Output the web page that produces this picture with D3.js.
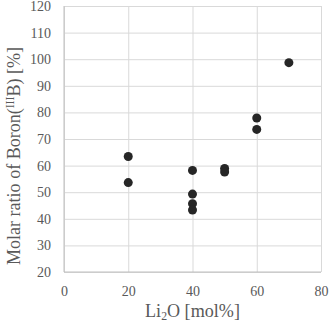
<!DOCTYPE html>
<html>
<head>
<meta charset="utf-8">
<script src="https://cdn.jsdelivr.net/npm/d3@7"></script>
<style>
  body { margin: 0; background: #fff; }
  svg text { font-family: "Liberation Serif", "DejaVu Serif", "Times New Roman", serif !important; fill: #595959; }
</style>
</head>
<body>
<div id="container"></div>
<script>
/* CONSTANTS AND GLOBALS */
const width = 330,
  height = 324;
const margin = { top: 6, right: 9, bottom: 52, left: 64 };

/* DATA */
const li2o = [20, 20, 40, 40, 40, 40, 50, 50, 60, 60, 70];
const boronIII = [63.4, 53.6, 58.2, 49.3, 45.7, 43.3, 58.9, 57.6, 77.9, 73.6, 98.7];
const xTicks = [0, 20, 40, 60, 80];
const yTicks = [20, 30, 40, 50, 60, 70, 80, 90, 100, 110, 120];

const data = li2o.map((x, i) => ({ x: x, y: boronIII[i] }));

// SCALES
const xScale = d3.scaleLinear()
  .domain([0, 80])
  .range([margin.left, width - margin.right]);

const yScale = d3.scaleLinear()
  .domain([20, 120])
  .range([height - margin.bottom, margin.top]);

// CREATE SVG ELEMENT
const svg = d3.select("#container")
  .append("svg")
  .attr("width", width)
  .attr("height", height);

// GRIDLINES
svg.append("g")
  .attr("class", "x-grid")
  .attr("transform", `translate(0, ${height - margin.bottom})`)
  .call(d3.axisBottom(xScale).tickValues(xTicks).tickSize(-(height - margin.top - margin.bottom)).tickFormat(""))
  .call(g => g.select(".domain").remove())
  .call(g => g.selectAll("line").attr("stroke", "#d9d9d9"));

svg.append("g")
  .attr("class", "y-grid")
  .attr("transform", `translate(${margin.left}, 0)`)
  .call(d3.axisLeft(yScale).tickValues(yTicks).tickSize(-(width - margin.left - margin.right)).tickFormat(""))
  .call(g => g.select(".domain").remove())
  .call(g => g.selectAll("line").attr("stroke", "#d9d9d9"));

// AXIS LINES
svg.append("line")
  .attr("x1", margin.left).attr("x2", margin.left)
  .attr("y1", margin.top).attr("y2", height - margin.bottom)
  .attr("stroke", "#bfbfbf");
svg.append("line")
  .attr("x1", margin.left).attr("x2", width - margin.right)
  .attr("y1", height - margin.bottom).attr("y2", height - margin.bottom)
  .attr("stroke", "#bfbfbf");

// TICK LABELS
svg.append("g")
  .attr("class", "x-axis")
  .attr("transform", `translate(0, ${height - margin.bottom})`)
  .call(d3.axisBottom(xScale).tickValues(xTicks).tickSize(0).tickPadding(14))
  .call(g => g.select(".domain").remove())
  .selectAll("text")
  .style("font-size", "14px")
  .attr("fill", "#595959");

svg.append("g")
  .attr("class", "y-axis")
  .attr("transform", `translate(${margin.left}, 0)`)
  .call(d3.axisLeft(yScale).tickValues(yTicks).tickSize(0).tickPadding(13))
  .call(g => g.select(".domain").remove())
  .selectAll("text")
  .style("font-size", "14px")
  .attr("fill", "#595959");

// POINTS
svg.selectAll(".dot")
  .data(data)
  .join("circle")
  .attr("class", "dot")
  .attr("cx", d => xScale(d.x))
  .attr("cy", d => yScale(d.y))
  .attr("r", 4.5)
  .attr("fill", "#262626");

// AXIS TITLES (font size fitted to the width seen in the picture)
function fit(sel, target) {
  let fs = 16;
  sel.style("font-size", fs + "px");
  const len = sel.node().getComputedTextLength();
  fs = fs * target / len;
  sel.style("font-size", fs.toFixed(2) + "px");
}

const xt = svg.append("text")
  .attr("x", 192.5)
  .attr("y", 317)
  .attr("text-anchor", "middle");
xt.append("tspan").text("Li");
xt.append("tspan").attr("dy", 3).attr("font-size", "0.65em").text("2");
xt.append("tspan").attr("dy", -3).text("O [mol%]");
fit(xt, 95);

const yt = svg.append("text")
  .attr("transform", `translate(20, 156) rotate(-90)`)
  .attr("text-anchor", "middle");
yt.append("tspan").text("Molar ratio of Boron(");
yt.append("tspan").attr("dy", -6).attr("font-size", "0.65em").text("III");
yt.append("tspan").attr("dy", 6).text("B) [%]");
fit(yt, 218);
</script>
</body>
</html>
